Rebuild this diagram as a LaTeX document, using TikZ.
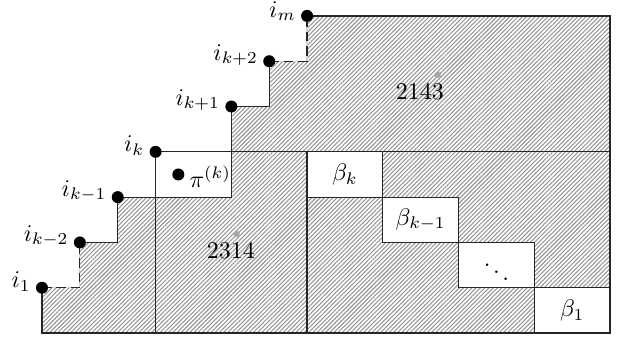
\documentclass[tikz,border=0pt]{standalone}
\usepackage{amsmath, amssymb}
\usetikzlibrary{patterns.meta, positioning, calc}
\definecolor{hatchgray}{RGB}{150, 150, 150}

\tikzset{
    dot/.style={circle, fill=black, inner sep=0pt, minimum size=5pt},
    markdot/.style={circle, fill=gray!70, inner sep=0pt, minimum size=2.6pt},
    hatched/.style={pattern={Lines[angle=45, distance=1.25pt, line width=0.45pt]}, pattern color=hatchgray},
    frame/.style={line width=0.5pt, black!85},
    gapline/.style={line width=0.5pt, gray!35},
    cornerlbl/.style={label distance=-1.5pt, yshift=2.6pt},
}

\begin{document}
\begin{tikzpicture}[x=0.5546cm, y=0.6635cm]
    \useasboundingbox (-1.109, -0.243) rectangle (15.316, 7.351);

    % Hatched area and white blocks
    \fill[hatched] (0,0) -- (0,1) -- (1,1) -- (1,2) -- (2,2) -- (2,3) -- (3,3) -- (3,4)
        -- (5,4) -- (5,5) -- (6,5) -- (6,6) -- (7,6) -- (7,7) -- (15,7) -- (15,0) -- cycle;
    \fill[white] (3,3) rectangle (5,4);
    \foreach \c/\r in {7/3, 9/2, 11/1, 13/0}
        \fill[white] (\c,\r) rectangle ++(2,1);

    % Staircase boundary
    \draw[frame] (0,1) -- (0,0) -- (15,0) -- (15,7) -- (7,7);
    \draw[gapline] (0,1) -- (1,1) -- (1,2);
    \draw[frame, dash pattern=on 4pt off 2pt] (0,1) -- (1,1) -- (1,2);
    \draw[frame] (1,2) -- (2,2) -- (2,3) -- (5,3) -- (5,5) -- (6,5) -- (6,6);
    \draw[gapline] (6,6) -- (7,6) -- (7,7);
    \draw[frame, dash pattern=on 4pt off 2pt] (6,6) -- (7,6) -- (7,7);

    % Inner divisions
    \draw[frame] (3,4) -- (15,4);
    \draw[frame] (3,0) -- (3,4);
    \draw[frame] (7,0) -- (7,4);

    % Diagonal blocks
    \draw[frame] (7,3) rectangle (9,4);
    \draw[frame] (9,2) rectangle (11,3);
    \draw[frame] (11,1) rectangle (13,2);
    \draw[frame] (13,0) rectangle (15,1);
    \node (bk) at (8,3.5) {$\beta_k$};
    \node (bkm) at (10,2.5) {$\beta_{k-1}$};
    \node (bdots) at (12,1.5) {$\ddots$};
    \node (b1) at (14,0.5) {$\beta_1$};

    % Corner points
    \node[dot, label={[cornerlbl]left:$i_1$}] (i1) at (0,1) {};
    \node[dot, label={[cornerlbl]left:$i_{k-2}$}] (ikmm) at (1,2) {};
    \node[dot, label={[cornerlbl]left:$i_{k-1}$}] (ikm) at (2,3) {};
    \node[dot, label={[cornerlbl]left:$i_k$}] (ik) at (3,4) {};
    \node[dot, label={[cornerlbl]left:$i_{k+1}$}] (ikp) at (5,5) {};
    \node[dot, label={[cornerlbl]left:$i_{k+2}$}] (ikpp) at (6,6) {};
    \node[dot, label={[cornerlbl, yshift=-0.6pt]left:$i_m$}] (im) at (7,7) {};
    \node[dot, label={[label distance=-1.5pt, yshift=-1pt]right:$\pi^{(k)}$}] (pik) at (3.6,3.5) {};

    % Pattern marks
    \node[markdot] (m2314) at (5.14,2.19) {};
    \node (t2314) at (4.99,1.82) {$2314$};
    \node[markdot] (m2143) at (10.45,5.70) {};
    \node (t2143) at (9.98,5.33) {$2143$};
\end{tikzpicture}
\end{document}
